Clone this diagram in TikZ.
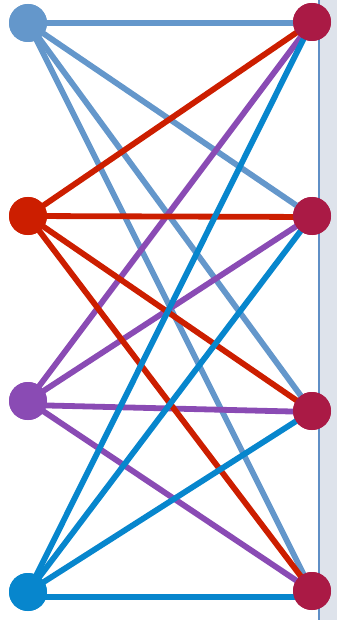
\documentclass[tikz,border=0pt]{standalone}
\begin{document}
\begin{tikzpicture}[x=1pt,y=-1pt,
  dot/.style={circle,inner sep=0pt,minimum size=38pt,fill=#1},
  edge/.style={line width=5.8pt,draw=#1}]
\definecolor{cA}{HTML}{6497CB}
\definecolor{cB}{HTML}{CC1E00}
\definecolor{cC}{HTML}{8A4BB4}
\definecolor{cD}{HTML}{0786CD}
\definecolor{cR}{HTML}{AA1A45}
\definecolor{band}{HTML}{DEE3EB}
\definecolor{vline}{HTML}{5F8FC6}
\useasboundingbox (0,0) rectangle (337,620);
\fill[band] (320,0) rectangle (337,620);
\draw[vline,line width=2pt] (318.5,0) -- (318.5,620);
\node[dot=cA] (L1) at (28,23) {};
\node[dot=cB] (L2) at (28,216) {};
\node[dot=cC] (L3) at (28,401) {};
\node[dot=cD] (L4) at (28,592) {};
\node[dot=cR] (R1) at (312,22) {};
\node[dot=cR] (R2) at (312,216) {};
\node[dot=cR] (R3) at (312,411) {};
\node[dot=cR] (R4) at (312,591) {};
% light blue
\draw[edge=cA] (L1.center) -- ([yshift=-1pt]R1.center);
\draw[edge=cA] (L1.center) -- (R2.center);
\draw[edge=cA] (L1.center) -- (R3.center);
\draw[edge=cA] (L1.center) -- (R4.center);
% purple
\draw[edge=cC] (L3.center) -- (R1.center);
\draw[edge=cC] (L3.center) -- (R2.center);
\draw[edge=cC] ([yshift=-4pt]L3.center) -- ([yshift=-1pt]R3.center);
\draw[edge=cC] (L3.center) -- (R4.center);
% red
\draw[edge=cB] (L2.center) -- (R1.center);
\draw[edge=cB] (L2.center) -- ([yshift=-1pt]R2.center);
\draw[edge=cB] (L2.center) -- (R3.center);
\draw[edge=cB] (L2.center) -- (R4.center);
% blue
\draw[edge=cD] (L4.center) -- (R1.center);
\draw[edge=cD] (L4.center) -- (R2.center);
\draw[edge=cD] (L4.center) -- (R3.center);
\draw[edge=cD] ([yshift=-5pt]L4.center) -- ([yshift=-6pt]R4.center);
\node[dot=cA] at (L1) {};
\node[dot=cB] at (L2) {};
\node[dot=cC] at (L3) {};
\node[dot=cD] at (L4) {};
\node[dot=cR] at (R1) {};
\node[dot=cR] at (R2) {};
\node[dot=cR] at (R3) {};
\node[dot=cR] at (R4) {};
\end{tikzpicture}
\end{document}
